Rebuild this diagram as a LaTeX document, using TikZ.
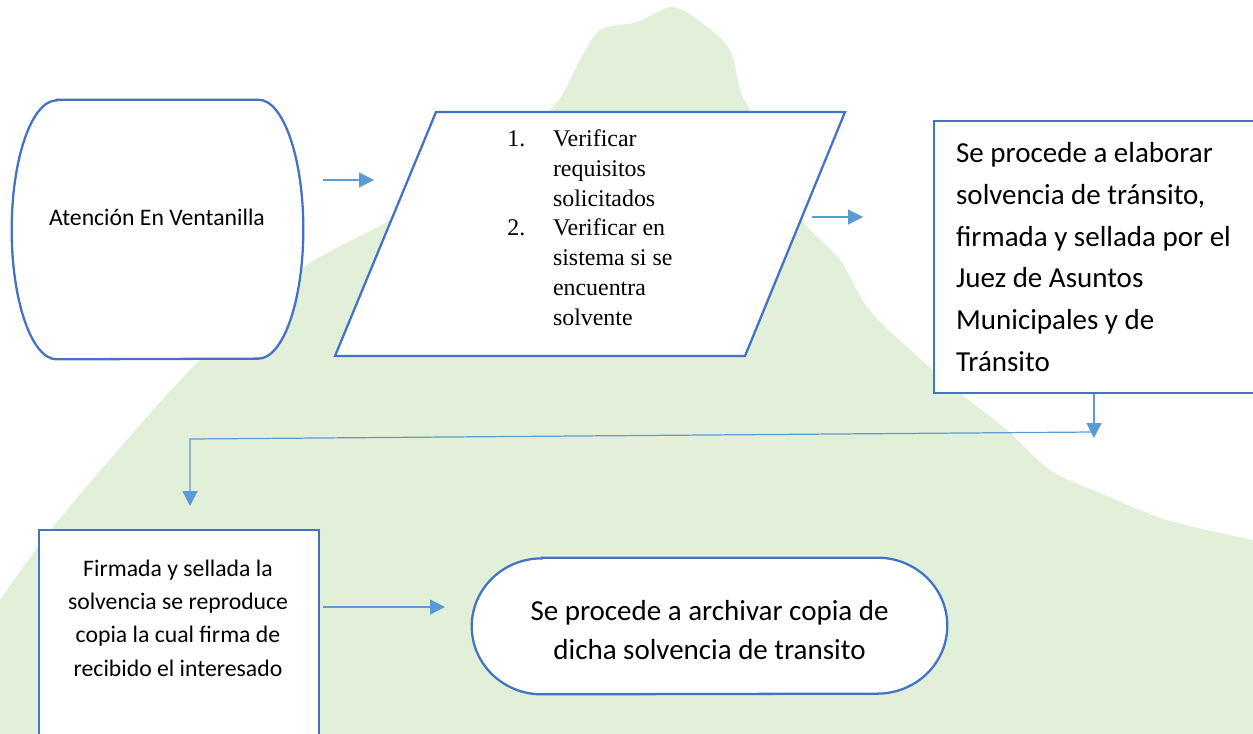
\documentclass[tikz,border=0pt]{standalone}
\usepackage{fontspec}
\setmainfont{Carlito}
\newfontfamily\timesfont{Liberation Serif}
\usepackage{tikz}
\usetikzlibrary{arrows.meta,calc}
\definecolor{edgeblue}{HTML}{4472C4}
\definecolor{flowblue}{HTML}{5B9BD5}
\definecolor{hillgreen}{HTML}{E2F0D9}
\tikzset{
  shp/.style={draw=edgeblue, line width=1.3pt, fill=white},
  blk/.style={shp, rectangle, inner sep=0pt},
  flw/.style={-{Triangle[length=8.5pt,width=8.5pt]}, line width=0.7pt, flowblue},
  sml/.style={font=\fontsize{13.5}{19}\selectfont, inner sep=0pt},
  big/.style={font=\fontsize{16.5}{23.8}\selectfont, inner sep=0pt},
  lst/.style={font=\timesfont\fontsize{13.6}{16.9}\selectfont, inner sep=0pt},
}

\begin{document}
\begin{tikzpicture}[x=0.02cm,y=-0.02cm]
  \useasboundingbox (0,0) rectangle (1253,733);
  \clip (0,0) rectangle (1253,733);
  % hill behind
  \fill[hillgreen] plot[smooth,tension=0.55] coordinates {(0,600) (53,527) (133,433) (200,360) (300,270) (390,220) (470,165) (550,110) (580,60) (600,30) (637,22) (673,7) (707,27) (730,50) (740,90) (750,110) (780,170) (802,220) (840,260) (867,307) (907,347) (960,393) (1007,430) (1050,470) (1100,493) (1167,520) (1253,540)} -- (1262,540) -- (1262,742) -- (0,742) -- cycle;

  % atencion
  \node[minimum width=5.82cm, minimum height=5.18cm, inner sep=0pt] (atn) at (157.5,229.5) {};
  \draw[shp] ($(atn.north west)+(45,0)$) -- ($(atn.north east)+(-45,0)$)
    arc[start angle=90, end angle=-90, x radius=0.9cm, y radius=2.59cm]
    -- ($(atn.south west)+(45,0)$)
    arc[start angle=270, end angle=90, x radius=0.9cm, y radius=2.59cm] -- cycle;
  \node[sml] (atnt) at (157,217) {Atención En Ventanilla};

  % verificar
  \draw[shp] (335,356) -- (436,112) -- (845,112) -- (745,356) -- cycle;
  \node[lst, anchor=west] (chk) at (507,230) {\begin{tabular}{@{}p{26pt}@{}l@{}}
    1. & Verificar\\ & requisitos\\ & solicitados\\
    2. & Verificar en\\ & sistema si se\\ & encuentra\\ & solvente\end{tabular}};

  % elaborar
  \node[blk, big, anchor=north west, text width=5.8cm, inner xsep=0.44cm, minimum height=5.44cm, align=flush left] (elab) at (933,120)
    {Se procede a elaborar\\ solvencia de tránsito,\\ firmada y sellada por el\\ Juez de Asuntos\\ Municipales y de\\ Tránsito};

  % firmada
  \node[blk, anchor=north west, minimum width=5.6cm, minimum height=4.8cm] (firm) at (38,529) {};
  \node[sml, align=center] (firmt) at (178,618) {Firmada y sellada la\\ solvencia se reproduce\\ copia la cual firma de\\ recibido el interesado};

  % archivar
  \node[minimum width=9.5cm, minimum height=2.72cm, inner sep=0pt] (arch) at (709.5,626) {};
  \draw[shp] ($(arch.north west)+(70,0)$) -- ($(arch.north east)+(-70,0)$)
    arc[start angle=90, end angle=-90, x radius=1.4cm, y radius=1.36cm]
    -- ($(arch.south west)+(70,0)$)
    arc[start angle=270, end angle=90, x radius=1.4cm, y radius=1.36cm] -- cycle;
  \node[big, align=center, font=\fontsize{16.5}{22.7}\selectfont] (archt) at (709.5,630) {Se procede a archivar copia de\\ dicha solvencia de transito};

  % arrows
  \coordinate (a1s) at (323,180); \coordinate (a1e) at (374,180);
  \coordinate (a2s) at (812,217); \coordinate (a2e) at (863,217);
  \coordinate (a3s) at (323,607); \coordinate (a3e) at (445,607);
  \coordinate (dn) at (1094,438);
  \coordinate (k1) at (1094,432); \coordinate (k2) at (190,439); \coordinate (k3) at (190,506);
  \draw[flw] (a1s) -- (a1e);
  \draw[flw] (a2s) -- (a2e);
  \draw[flw] (elab.south -| dn) -- (dn);
  \draw[flw] (k1) -- (k2) -- (k3);
  \draw[flw] (a3s) -- (a3e);
\end{tikzpicture}
\end{document}
